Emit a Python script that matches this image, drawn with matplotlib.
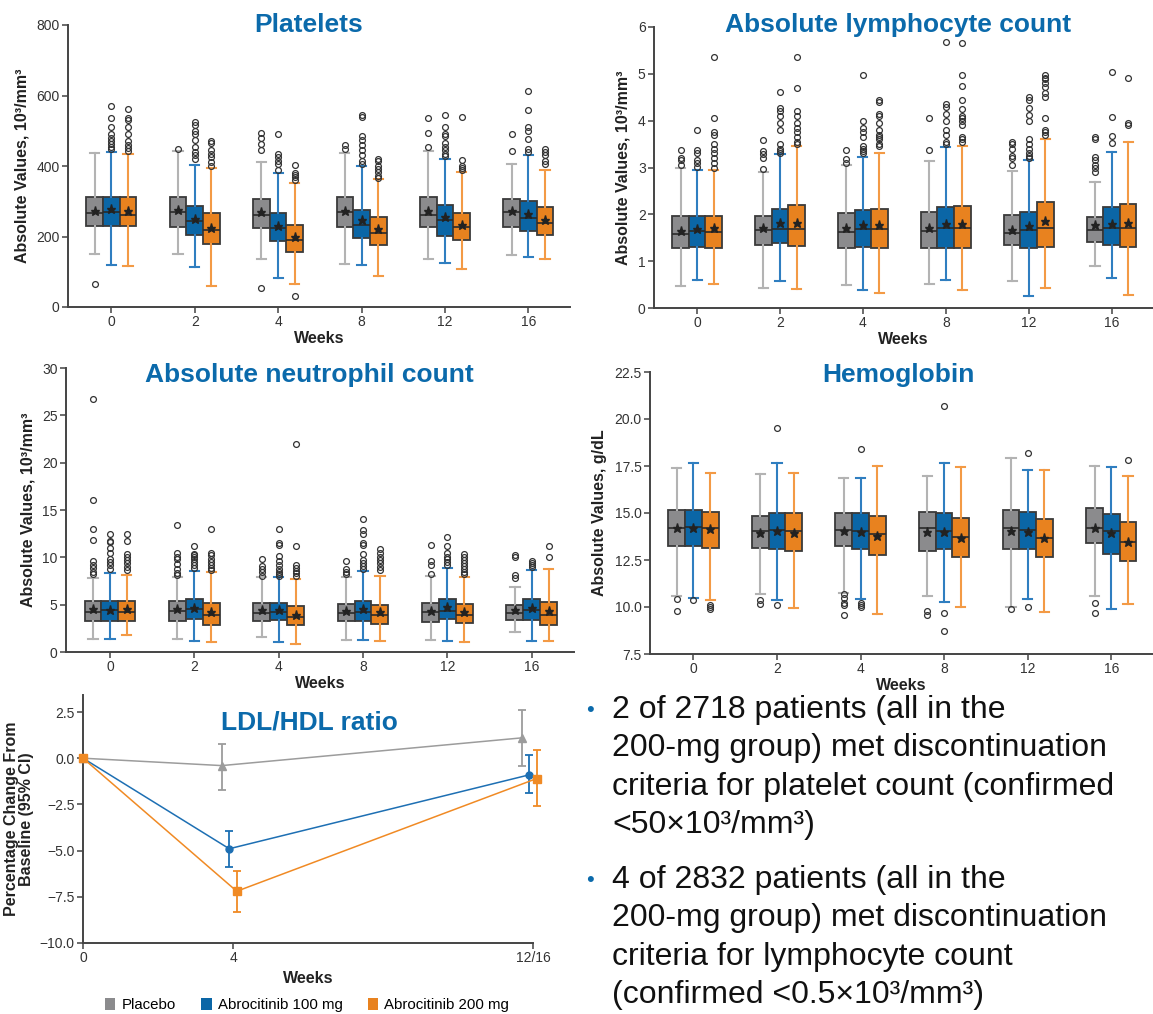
import numpy as np
import matplotlib

matplotlib.use("Agg")
import matplotlib.pyplot as plt
from matplotlib.patches import Patch
from matplotlib.ticker import FuncFormatter


WEEKS = ["0", "2", "4", "8", "12", "16"]
GROUPS = ["Placebo", "Abrocitinib 100 mg", "Abrocitinib 200 mg"]

# --- Platelets, 10^3/mm^3 (rows: placebo, 100 mg, 200 mg) ---
PLT_LO = [[149, 151, 137, 123, 135, 147], [118, 114, 83, 118, 126, 142], [116, 60, 64, 87, 107, 135]]
PLT_Q1 = [[229, 226, 224, 226, 227, 227], [229, 204, 187, 195, 201, 215], [229, 179, 156, 177, 189, 205]]
PLT_MED = [[268, 270, 262, 270, 262, 270], [270, 243, 224, 234, 246, 253], [262, 218, 191, 211, 227, 239]]
PLT_Q3 = [[312, 312, 305, 311, 312, 307], [312, 287, 268, 275, 289, 301], [312, 268, 234, 254, 268, 283]]
PLT_HI = [[437, 442, 410, 437, 443, 405], [440, 404, 381, 401, 421, 432], [434, 393, 352, 364, 382, 388]]
PLT_MEAN = [[273, 275, 270, 272, 273, 273], [279, 249, 231, 246, 256, 265], [273, 225, 199, 221, 234, 246]]
PLT_OUT = [
    [[64], [449], [495, 480, 462, 444, 55], [460, 447], [535, 495, 453], [490, 443]],
    [[570, 535, 512, 490, 480, 470, 462, 455, 448], [525, 515, 500, 490, 475, 455, 440, 430, 420],
     [492, 435, 425, 415, 405, 390], [545, 538, 485, 475, 460, 445, 430, 415, 405],
     [545, 510, 490, 485, 465, 455, 445, 435, 428], [612, 558, 512, 500, 476, 447, 440]],
    [[563, 535, 530, 512, 492, 470, 460, 450, 443], [470, 465, 445, 435, 425, 410, 400],
     [403, 380, 375, 368, 360, 31], [420, 415, 400, 392, 383, 372, 365],
     [540, 418, 400, 395, 388], [447, 440, 430, 415, 405]],
]

# --- Absolute lymphocyte count ---
ALC_LO = [[0.48, 0.43, 0.50, 0.51, 0.58, 0.89], [0.60, 0.57, 0.39, 0.60, 0.25, 0.63], [0.52, 0.40, 0.32, 0.39, 0.42, 0.28]]
ALC_Q1 = [[1.28, 1.34, 1.29, 1.29, 1.34, 1.41], [1.31, 1.38, 1.31, 1.29, 1.29, 1.34], [1.29, 1.33, 1.29, 1.29, 1.31, 1.31]]
ALC_MED = [[1.58, 1.66, 1.62, 1.65, 1.60, 1.66], [1.65, 1.68, 1.68, 1.70, 1.67, 1.70], [1.63, 1.68, 1.68, 1.70, 1.70, 1.70]]
ALC_Q3 = [[1.97, 1.97, 2.02, 2.06, 1.99, 1.94], [1.97, 2.12, 2.09, 2.15, 2.06, 2.15], [1.96, 2.19, 2.12, 2.17, 2.26, 2.22]]
ALC_HI = [[2.98, 2.90, 3.05, 3.14, 2.93, 2.68], [2.95, 3.29, 3.23, 3.44, 3.17, 3.33], [2.95, 3.46, 3.32, 3.46, 3.60, 3.55]]
ALC_MEAN = [[1.65, 1.70, 1.70, 1.71, 1.67, 1.77], [1.68, 1.81, 1.77, 1.79, 1.75, 1.80], [1.70, 1.81, 1.77, 1.79, 1.85, 1.81]]
ALC_OUT = [
    [[3.38, 3.2, 3.15, 3.05], [3.58, 3.35, 3.28, 3.2, 2.97], [3.38, 3.18, 3.1], [4.05, 3.38],
     [3.55, 3.5, 3.4, 3.25, 3.2, 3.05], [3.65, 3.6, 3.22, 3.15, 3.05, 3.0, 2.9]],
    [[3.8, 3.38, 3.3, 3.15, 3.1, 3.02], [4.62, 4.28, 4.2, 4.1, 3.95, 3.8, 3.5, 3.4, 3.35, 3.3],
     [4.98, 4.0, 3.85, 3.75, 3.65, 3.45, 3.4, 3.35, 3.3], [5.68, 4.35, 4.3, 4.15, 4.0, 3.8, 3.7, 3.55, 3.5],
     [4.5, 4.45, 4.28, 4.12, 4.0, 3.6, 3.5, 3.4, 3.3, 3.25, 3.2], [5.03, 4.07, 3.68, 3.52]],
    [[5.35, 4.05, 3.75, 3.7, 3.5, 3.4, 3.3, 3.2, 3.1, 3.0], [5.35, 4.7, 4.2, 4.1, 3.95, 3.85, 3.75, 3.65, 3.55, 3.5],
     [4.45, 4.4, 4.15, 4.1, 3.95, 3.8, 3.7, 3.65, 3.6, 3.5, 3.45],
     [5.65, 4.97, 4.75, 4.45, 4.25, 4.1, 4.05, 4.0, 3.9, 3.65, 3.6, 3.55],
     [4.98, 4.92, 4.88, 4.8, 4.72, 4.6, 4.5, 4.05, 3.8, 3.75, 3.7], [4.92, 3.95, 3.9]],
]

# --- Absolute neutrophil count ---
ANC_LO = [[1.40, 1.37, 1.55, 1.26, 1.26, 2.11], [1.37, 1.16, 1.05, 1.26, 1.12, 1.19], [1.76, 1.02, 0.84, 1.19, 1.05, 1.12]]
ANC_Q1 = [[3.30, 3.30, 3.30, 3.30, 3.13, 3.41], [3.30, 3.51, 3.41, 3.30, 3.48, 3.41], [3.30, 2.88, 2.81, 2.95, 3.02, 2.88]]
ANC_MED = [[4.21, 4.36, 4.11, 4.11, 4.18, 4.11], [4.39, 4.53, 4.21, 4.18, 4.29, 4.46], [4.21, 3.93, 3.69, 3.93, 3.93, 3.93]]
ANC_Q3 = [[5.34, 5.34, 5.16, 5.09, 5.16, 4.92], [5.41, 5.62, 5.16, 5.41, 5.62, 5.62], [5.34, 5.16, 4.81, 4.99, 5.06, 5.27]]
ANC_HI = [[7.83, 7.90, 7.90, 7.90, 8.08, 6.85], [8.32, 8.60, 7.90, 8.60, 8.85, 8.68], [8.15, 8.50, 7.73, 8.08, 7.97, 8.82]]
ANC_MEAN = [[4.57, 4.53, 4.46, 4.29, 4.36, 4.39], [4.46, 4.64, 4.39, 4.57, 4.71, 4.64], [4.57, 4.18, 3.93, 4.18, 4.18, 4.29]]
ANC_OUT = [
    [[26.7, 16.1, 13.0, 11.8, 9.6, 9.2, 8.9, 8.5, 8.2], [13.4, 10.5, 10.0, 9.8, 9.3, 8.8, 8.3, 8.1],
     [9.8, 9.1, 8.8, 8.4, 8.0], [9.6, 8.8, 8.5, 8.2], [11.3, 9.6, 9.2, 8.2], [10.2, 10.0, 8.1, 7.8]],
    [[12.5, 11.7, 11.6, 11.0, 10.5, 9.8, 9.5, 9.2, 8.8], [11.2, 10.4, 10.2, 10.0, 9.8, 9.5, 9.2, 8.9],
     [13.0, 11.5, 11.3, 10.1, 9.6, 9.2, 8.8, 8.5, 8.2, 8.0], [14.0, 12.9, 12.5, 11.5, 11.3, 10.4, 9.7, 9.4, 9.1, 8.8],
     [12.2, 11.2, 10.5, 10.0, 9.8, 9.5, 9.2], [9.6, 9.4, 9.2, 9.0]],
    [[12.5, 11.7, 10.4, 10.0, 9.7, 9.4, 9.0, 8.7], [13.0, 10.5, 10.2, 9.8, 9.5, 9.2, 8.9, 8.7],
     [22.0, 11.2, 9.2, 8.9, 8.6, 8.3, 8.0], [10.9, 10.5, 10.0, 9.7, 9.4, 9.0, 8.7],
     [10.4, 10.0, 9.7, 9.4, 9.1, 8.8, 8.5, 8.2], [11.2, 10.0]],
]

# --- Hemoglobin, g/dL ---
HGB_LO = [[10.56, 10.68, 10.74, 10.56, 10.00, 10.56], [10.47, 10.35, 10.44, 10.26, 10.44, 9.89], [10.35, 9.94, 9.62, 9.98, 9.73, 10.15]]
HGB_Q1 = [[13.27, 13.16, 13.27, 12.98, 13.07, 13.39], [13.27, 13.07, 13.07, 13.07, 13.07, 12.82], [13.16, 12.98, 12.77, 12.65, 12.65, 12.47]]
HGB_MED = [[14.19, 14.06, 14.10, 14.19, 14.19, 14.19], [14.24, 14.10, 14.06, 14.06, 14.10, 14.06], [14.19, 14.06, 13.87, 13.74, 13.66, 13.44]]
HGB_Q3 = [[15.16, 14.84, 14.98, 15.07, 15.16, 15.25], [15.16, 14.98, 14.98, 14.98, 15.07, 14.93], [15.04, 14.98, 14.86, 14.72, 14.66, 14.54]]
HGB_HI = [[17.37, 17.10, 16.88, 16.98, 17.90, 17.49], [17.64, 17.64, 16.88, 17.64, 17.28, 17.46], [17.14, 17.14, 17.49, 17.46, 17.28, 16.98]]
HGB_MEAN = [[14.19, 13.92, 14.05, 13.97, 14.06, 14.19], [14.19, 14.05, 14.01, 13.97, 14.01, 13.92], [14.13, 13.92, 13.80, 13.69, 13.66, 13.48]]
HGB_OUT = [
    [[10.4, 9.8], [10.35, 10.15], [10.7, 10.5, 10.2, 10.1, 9.6], [9.8, 9.6], [9.9], [10.2, 9.7]],
    [[10.35], [19.5, 10.1], [18.4, 10.2, 10.1, 10.0], [20.7, 9.7, 8.7], [18.2, 10.0], []],
    [[10.1, 10.0, 9.9], [], [], [], [], [17.8]],
]

# --- LDL/HDL ratio, % change from baseline (95% CI) ---
LDL_WEEKS = [0, 4, 12]
LDL_WEEK_LABELS = ["0", "4", "12/16"]
LDL_MEAN = [[0.0, -0.4, 1.1], [0.0, -4.9, -0.9], [0.0, -7.2, -1.1]]
LDL_LOW = [[0.0, -1.7, -0.4], [0.0, -5.9, -1.9], [0.0, -8.3, -2.6]]
LDL_HIGH = [[0.0, 0.75, 2.6], [0.0, -3.95, 0.2], [0.0, -6.1, 0.45]]

BULLET_1 = ["2 of 2718 patients (all in the", "200-mg group) met discontinuation",
            "criteria for platelet count (confirmed", "<50×10³/mm³)"]
BULLET_2 = ["4 of 2832 patients (all in the", "200-mg group) met discontinuation",
            "criteria for lymphocyte count", "(confirmed <0.5×10³/mm³)"]

FACE = ["#8b8b8d", "#0b66a6", "#e8821f"]
WHISK = ["#b3b3b3", "#2f7ec0", "#f39a45"]
LINE_C = ["#9c9c9c", "#1d6fb3", "#f08a24"]
MARKERS = ["^", "o", "s"]
TITLE_C = "#0b6aab"
AX_C = "#444444"
OFFSETS = [-0.2, 0.0, 0.2]
LDL_SHIFT = [-0.3, -0.1, 0.1]

W, H = 1153, 1014


def px_rect(left, right, top, bottom):
    return [left / W, 1 - bottom / H, (right - left) / W, (bottom - top) / H]


def one_decimal(v, _pos):
    return f"{v:.1f}".replace("-", "\u2212")


def style_axes(ax):
    for side in ("top", "right"):
        ax.spines[side].set_visible(False)
    for side in ("left", "bottom"):
        ax.spines[side].set_color(AX_C)
        ax.spines[side].set_linewidth(1.4)
    ax.tick_params(direction="out", length=4, width=1.1, color=AX_C, labelsize=10,
                   labelcolor="#333333", pad=2)


def box_panel(ax, lo, q1, med, q3, hi, mean, out, ylim, yticks, ylabel, decimals=False):
    for g in range(3):
        stats = []
        for i in range(len(WEEKS)):
            stats.append(dict(med=med[g][i], q1=q1[g][i], q3=q3[g][i], whislo=lo[g][i],
                              whishi=hi[g][i], mean=mean[g][i], fliers=out[g][i]))
        ax.bxp(stats, positions=np.arange(len(WEEKS)) + OFFSETS[g], widths=0.2,
               patch_artist=True, showmeans=True, manage_ticks=False, capwidths=0.11,
               boxprops=dict(facecolor=FACE[g], edgecolor="#3a3a3a", linewidth=1.3),
               medianprops=dict(color="#2a2a2a", linewidth=1.2),
               whiskerprops=dict(color=WHISK[g], linewidth=1.5),
               capprops=dict(color=WHISK[g], linewidth=1.5),
               meanprops=dict(marker="*", markerfacecolor="#222222", markeredgecolor="#222222",
                              markersize=6.5),
               flierprops=dict(marker="o", markerfacecolor="none", markeredgecolor="#333333",
                               markersize=4.2, markeredgewidth=0.9))
    style_axes(ax)
    ax.set_xlim(-0.52, 5.5)
    ax.set_xticks(np.arange(len(WEEKS)))
    ax.set_xticklabels(WEEKS)
    ax.set_ylim(*ylim)
    ax.set_yticks(yticks)
    if decimals:
        ax.yaxis.set_major_formatter(FuncFormatter(one_decimal))
    ax.set_xlabel("Weeks", fontsize=11.5, fontweight="bold", labelpad=1, color="#222222")
    ax.set_ylabel(ylabel, fontsize=11.5, fontweight="bold", labelpad=5, color="#222222")


def title(fig, x, y, text):
    fig.text(x / W, 1 - y / H, text, ha="center", va="baseline", fontsize=19,
             fontweight="bold", color=TITLE_C)


def main():
    plt.rcParams["font.family"] = ["Liberation Sans", "DejaVu Sans"]
    fig = plt.figure(figsize=(W / 100, H / 100), dpi=100)
    fig.patch.set_facecolor("white")

    ax = fig.add_axes(px_rect(68, 570, 25, 307))
    box_panel(ax, PLT_LO, PLT_Q1, PLT_MED, PLT_Q3, PLT_HI, PLT_MEAN, PLT_OUT,
              (0, 800), [0, 200, 400, 600, 800], "Absolute Values, 10³/mm³")
    title(fig, 309, 32, "Platelets")

    ax = fig.add_axes(px_rect(654, 1153, 27, 308))
    box_panel(ax, ALC_LO, ALC_Q1, ALC_MED, ALC_Q3, ALC_HI, ALC_MEAN, ALC_OUT,
              (0, 6), [0, 1, 2, 3, 4, 5, 6], "Absolute Values, 10³/mm³")
    title(fig, 898, 32, "Absolute lymphocyte count")

    ax = fig.add_axes(px_rect(66, 574, 368, 652))
    box_panel(ax, ANC_LO, ANC_Q1, ANC_MED, ANC_Q3, ANC_HI, ANC_MEAN, ANC_OUT,
              (0, 30), [0, 5, 10, 15, 20, 25, 30], "Absolute Values, 10³/mm³")
    title(fig, 309, 382, "Absolute neutrophil count")

    ax = fig.add_axes(px_rect(650, 1153, 372, 654))
    box_panel(ax, HGB_LO, HGB_Q1, HGB_MED, HGB_Q3, HGB_HI, HGB_MEAN, HGB_OUT,
              (7.5, 22.5), [7.5, 10, 12.5, 15, 17.5, 20, 22.5], "Absolute Values, g/dL",
              decimals=True)
    title(fig, 898, 382, "Hemoglobin")

    # LDL/HDL line panel
    ax = fig.add_axes(px_rect(83, 533, 695, 943))
    weeks = np.array(LDL_WEEKS, dtype=float)
    for g in range(3):
        x = weeks + np.where(weeks > 0, LDL_SHIFT[g], 0.0)
        m = np.array(LDL_MEAN[g])
        err = [m - np.array(LDL_LOW[g]), np.array(LDL_HIGH[g]) - m]
        ax.errorbar(x, m, yerr=err, color=LINE_C[g], lw=1.1, elinewidth=1.3, capsize=3,
                    capthick=1.3, marker=MARKERS[g], markersize=6 if g != 1 else 5,
                    markerfacecolor=LINE_C[g], markeredgecolor=LINE_C[g], clip_on=False, zorder=3)
    style_axes(ax)
    ax.set_xlim(0, 12)
    ax.set_xticks(LDL_WEEKS)
    ax.set_xticklabels(LDL_WEEK_LABELS)
    ax.set_ylim(-10, 3.42)
    ax.set_yticks([2.5, 0, -2.5, -5, -7.5, -10])
    ax.yaxis.set_major_formatter(FuncFormatter(one_decimal))
    ax.set_xlabel("Weeks", fontsize=11.5, fontweight="bold", labelpad=4, color="#222222")
    ax.set_ylabel("Percentage Change From\nBaseline (95% CI)", fontsize=11.5,
                  fontweight="bold", labelpad=4, color="#222222", linespacing=1.05)
    title(fig, 309, 730, "LDL/HDL ratio")

    handles = [Patch(facecolor=c, edgecolor="none") for c in FACE]
    fig.legend(handles, GROUPS, loc="center", bbox_to_anchor=(307 / W, 1 - 1005 / H), ncol=3,
               frameon=False, fontsize=10.8, handlelength=0.7, handleheight=0.9,
               handletextpad=0.4, columnspacing=1.7, borderpad=0)

    # bullet notes
    for lines, y0 in ((BULLET_1, 718), (BULLET_2, 888)):
        fig.text(590 / W, 1 - (y0 - 8) / H, "•", ha="center", va="center", fontsize=16,
                 color=TITLE_C)
        for i, line in enumerate(lines):
            fig.text(612 / W, 1 - (y0 + i * 38.3) / H, line, ha="left", va="baseline",
                     fontsize=23, color="#111111")

    fig.savefig("out.png", dpi=100, facecolor="white")
    plt.close(fig)


if __name__ == "__main__":
    main()
